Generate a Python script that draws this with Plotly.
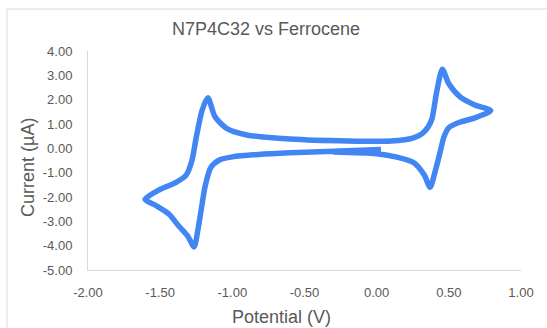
import plotly.graph_objects as go

# Cyclic voltammogram (potential in V, current in µA)
potential = [0.03, -0.3, -0.6, -0.82, -1.0, -1.09, -1.15, -1.19, -1.215, -1.24, -1.265,
             -1.31, -1.37, -1.44, -1.53, -1.605, -1.51, -1.39, -1.32, -1.28, -1.25, -1.21,
             -1.17, -1.12, -1.04, -0.9, -0.6, -0.2, 0.1, 0.25, 0.33, 0.38, 0.415, 0.455,
             0.5, 0.58, 0.68, 0.79, 0.68, 0.58, 0.5, 0.465, 0.44, 0.405, 0.37, 0.33, 0.26,
             0.14, 0.0, -0.3]
current = [-0.05, -0.12, -0.18, -0.25, -0.35, -0.48, -0.8, -1.6, -2.5, -3.4, -4.05,
           -3.6, -3.2, -2.7, -2.35, -2.1, -1.72, -1.4, -1.1, -0.5, 0.45, 1.55,
           2.08, 1.3, 0.82, 0.55, 0.38, 0.3, 0.3, 0.42, 0.68, 1.15, 2.3, 3.25,
           2.65, 2.1, 1.78, 1.55, 1.25, 1.08, 0.85, 0.45, -0.15, -0.95, -1.6, -1.1, -0.6,
           -0.36, -0.22, -0.15]

x_tick_vals = [-2.0, -1.5, -1.0, -0.5, 0.0, 0.5, 1.0]
x_tick_text = ["-2.00", "-1.50", "-1.00", "-0.50", "0.00", "0.50", "1.00"]
y_tick_vals = [4, 3, 2, 1, 0, -1, -2, -3, -4, -5]
y_tick_text = ["4.00", "3.00", "2.00", "1.00", "0.00", "-1.00", "-2.00", "-3.00", "-4.00", "-5.00"]

title_text = "N7P4C32 vs Ferrocene"
x_title = "Potential (V)"
y_title = "Current (µA)"

W, H = 547, 328
L, R, T, B = 88, 26, 51, 58
pw, ph = W - L - R, H - T - B

def px_x(p):
    return (p - L) / pw

def px_y(p):
    return (H - B - p) / ph

gray = "#595959"
font = "Liberation Sans, Arial, sans-serif"

fig = go.Figure()
fig.add_trace(go.Scatter(
    x=potential, y=current, mode="lines",
    line=dict(color="#4286F4", width=5.5, shape="spline", smoothing=0.7),
    hoverinfo="skip", showlegend=False,
))

fig.update_layout(
    width=W, height=H,
    margin=dict(l=L, r=R, t=T, b=B),
    paper_bgcolor="white", plot_bgcolor="white",
    font=dict(family=font, color=gray),
    showlegend=False,
    xaxis=dict(range=[-2, 1], tickvals=x_tick_vals, ticktext=x_tick_text,
               showgrid=False, zeroline=False, showline=True, linecolor="#d9d9d9",
               linewidth=1, ticks="", tickfont=dict(size=13, color=gray),
               ticklabelstandoff=10, fixedrange=True),
    yaxis=dict(range=[-5, 4], tickvals=y_tick_vals, ticktext=y_tick_text,
               showgrid=False, zeroline=False, showline=True, linecolor="#d9d9d9",
               linewidth=1, ticks="", tickfont=dict(size=13, color=gray),
               ticklabelstandoff=12, fixedrange=True),
    shapes=[dict(type="rect", xref="paper", yref="paper",
                 x0=px_x(7), x1=px_x(W + 20), y0=px_y(H + 20), y1=px_y(9),
                 line=dict(color="#d9d9d9", width=1), fillcolor="rgba(0,0,0,0)",
                 layer="below")],
    annotations=[
        dict(text=title_text, xref="paper", yref="paper", x=px_x(266), y=px_y(29),
             xanchor="center", yanchor="middle", showarrow=False,
             font=dict(size=18, color=gray, family=font)),
        dict(text=x_title, xref="paper", yref="paper", x=px_x(281), y=px_y(317),
             xanchor="center", yanchor="middle", showarrow=False,
             font=dict(size=18, color=gray, family=font)),
        dict(text=y_title, xref="paper", yref="paper", x=px_x(28), y=px_y(168),
             xanchor="center", yanchor="middle", showarrow=False, textangle=-90,
             font=dict(size=18, color=gray, family=font)),
    ],
)

fig.write_html("out.html", config={"displayModeBar": False},
               post_script="document.body.style.margin='0';document.body.style.overflow='hidden';")
